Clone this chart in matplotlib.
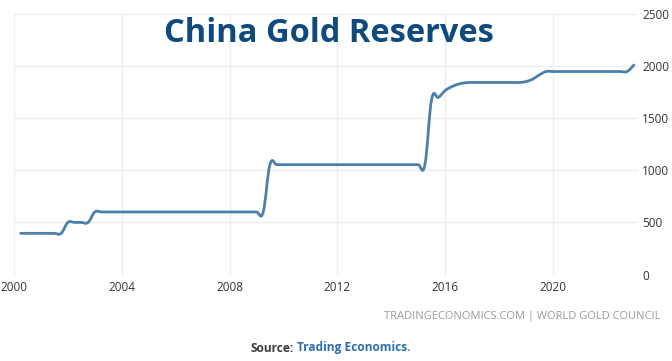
import numpy as np
import pandas as pd
import matplotlib
matplotlib.use("Agg")
import matplotlib.pyplot as plt
from matplotlib.path import Path
from matplotlib.patches import PathPatch

# ---- data (quarterly, tonnes) ----
quarter_ends = pd.date_range("2000-03-31", "2022-12-31", freq="QE")
reserves = [
    395, 395, 395, 395,      # 2000
    395, 395, 395, 500,      # 2001
    500, 500, 500, 600,      # 2002
    600, 600, 600, 600,      # 2003
    600, 600, 600, 600,      # 2004
    600, 600, 600, 600,      # 2005
    600, 600, 600, 600,      # 2006
    600, 600, 600, 600,      # 2007
    600, 600, 600, 600,      # 2008
    600, 1054, 1054, 1054,   # 2009
    1054, 1054, 1054, 1054,  # 2010
    1054, 1054, 1054, 1054,  # 2011
    1054, 1054, 1054, 1054,  # 2012
    1054, 1054, 1054, 1054,  # 2013
    1054, 1054, 1054, 1054,  # 2014
    1054, 1680, 1700, 1765,  # 2015
    1803, 1827, 1840, 1843,  # 2016
    1843, 1843, 1843, 1843,  # 2017
    1843, 1843, 1843, 1852,  # 2018
    1875, 1916, 1948, 1948,  # 2019
    1948, 1948, 1948, 1948,  # 2020
    1948, 1948, 1948, 1948,  # 2021
    1948, 1948, 1948, 2010,  # 2022
]
x_ticks = [2000, 2004, 2008, 2012, 2016, 2020]
y_ticks = [0, 500, 1000, 1500, 2000, 2500]
title = "China Gold Reserves"
footer = "TRADINGECONOMICS.COM | WORLD GOLD COUNCIL"

# decimal years
xs = np.array([d.year + (d.dayofyear) / (366 if d.is_leap_year else 365) for d in quarter_ends])
ys = np.array(reserves, dtype=float)

W, H = 672, 361
fig = plt.figure(figsize=(W / 100, H / 100), dpi=100)
fig.patch.set_facecolor("white")

left_px, right_px, top_px, bottom_px = 14, 638, 14, 274.5
ax = fig.add_axes([left_px / W, 1 - bottom_px / H, (right_px - left_px) / W, (bottom_px - top_px) / H])
ax.set_xlim(2000, 2000 + (right_px - left_px) / 26.95)
ax.set_ylim(0, 2500)

for s in ax.spines.values():
    s.set_visible(False)

ax.set_xticks(x_ticks)
ax.set_xticklabels([str(t) for t in x_ticks])
ax.set_yticks(y_ticks)
ax.set_yticklabels([str(t) for t in y_ticks])
ax.yaxis.tick_right()
ax.tick_params(axis="both", length=0, labelsize=8.5, labelcolor="#333333")
ax.tick_params(axis="y", pad=3)
ax.tick_params(axis="x", pad=5)
for lab in ax.get_xticklabels() + ax.get_yticklabels():
    lab.set_fontfamily("Open Sans")

ax.grid(True, color="#eeeeee", linewidth=1.0)
ax.set_axisbelow(True)

# smoothed spline path (cardinal spline through data points)
n = len(xs)
slopes = np.zeros(n)
slopes[1:-1] = (ys[2:] - ys[:-2]) / (xs[2:] - xs[:-2])
verts = [(xs[0], ys[0])]
codes = [Path.MOVETO]
for i in range(n - 1):
    dx = xs[i + 1] - xs[i]
    if i == 0:
        c1 = (xs[i], ys[i])
    else:
        c1 = (xs[i] + 0.4 * dx, ys[i] + slopes[i] * 0.4 * dx)
    if i + 1 == n - 1:
        c2 = (xs[i + 1], ys[i + 1])
    else:
        c2 = (xs[i + 1] - 0.4 * dx, ys[i + 1] - slopes[i + 1] * 0.4 * dx)
    verts += [c1, c2, (xs[i + 1], ys[i + 1])]
    codes += [Path.CURVE4] * 3
patch = PathPatch(Path(verts, codes), fill=False, edgecolor="#4a80aa", linewidth=2.0,
                  capstyle="round", joinstyle="round", zorder=3)
ax.add_patch(patch)

# title
fig.text(329 / W, 1 - 34 / H, title, ha="center", va="center", fontsize=23.5,
         fontweight="bold", color="#0e4a7e", family="Open Sans")

# footer
fig.text(661 / W, 1 - 317 / H, footer, ha="right", va="center", fontsize=8,
         color="#9a9a9a", family="Open Sans")

fig.text(294 / W, 1 - 348 / H, "Source:", ha="right", va="center", fontsize=8.6,
         fontweight="bold", color="#3a3a3a", family="Open Sans")
fig.text(297 / W, 1 - 348 / H, "Trading Economics.", ha="left", va="center", fontsize=8.6,
         fontweight="bold", color="#2a6db0", family="Open Sans")

fig.savefig("out.png", dpi=100, facecolor="white")
